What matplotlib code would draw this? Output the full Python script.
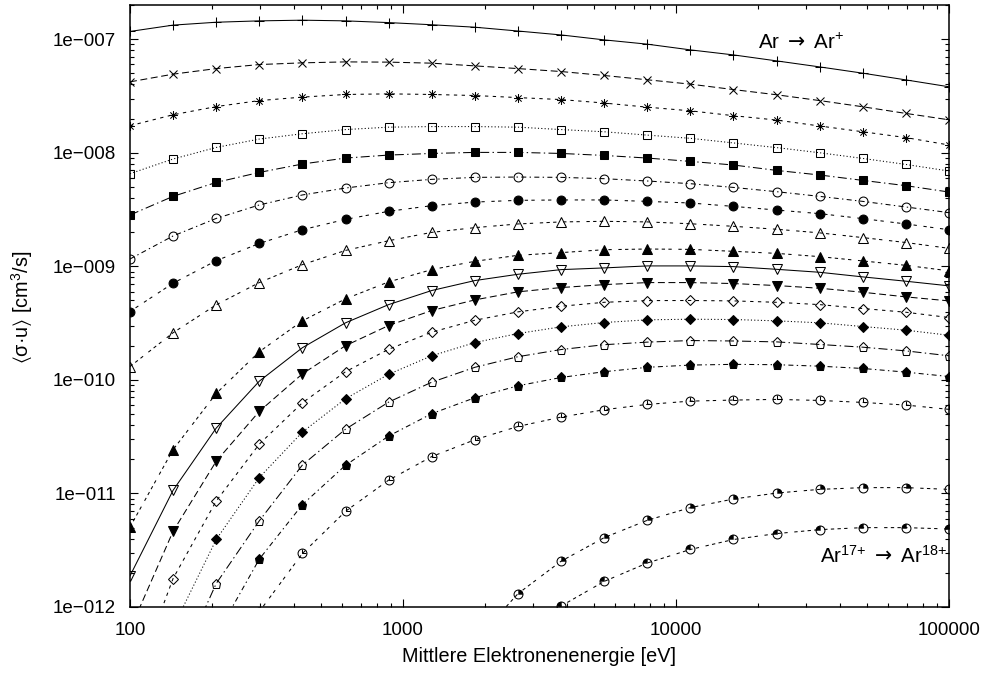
import numpy as np
import matplotlib
matplotlib.use("Agg")
import matplotlib.pyplot as plt
from matplotlib.path import Path
from matplotlib.ticker import LogLocator, FixedLocator, FixedFormatter, NullFormatter

plt.rcParams['font.family'] = ['Liberation Sans', 'DejaVu Sans']
plt.rcParams['mathtext.fontset'] = 'custom'
plt.rcParams['mathtext.rm'] = 'Liberation Sans'
plt.rcParams['mathtext.it'] = 'Liberation Sans'
plt.rcParams['mathtext.sf'] = 'DejaVu Sans'
plt.rcParams['mathtext.default'] = 'regular'
plt.rcParams['lines.scale_dashes'] = False

nan = float('nan')

# ---------------- data ----------------
energy_eV = [100, 143.8, 206.9, 297.6, 428.1, 615.8, 885.8, 1274, 1833, 2637,
             3793, 5456, 7848, 11288, 16238, 23357, 33598, 48329, 69519, 100000]

rate_01 = [1.17e-7, 1.33e-7, 1.41e-7, 1.45e-7, 1.47e-7, 1.45e-7, 1.40e-7, 1.34e-7, 1.275e-7, 1.18e-7,
           1.09e-7, 9.86e-8, 9.04e-8, 8.05e-8, 7.27e-8, 6.44e-8, 5.70e-8, 5.02e-8, 4.38e-8, 3.81e-8]
rate_02 = [4.21e-8, 4.92e-8, 5.51e-8, 5.98e-8, 6.19e-8, 6.31e-8, 6.28e-8, 6.15e-8, 5.82e-8, 5.51e-8,
           5.19e-8, 4.79e-8, 4.39e-8, 4.02e-8, 3.60e-8, 3.24e-8, 2.88e-8, 2.54e-8, 2.22e-8, 1.95e-8]
rate_03 = [1.73e-8, 2.16e-8, 2.55e-8, 2.88e-8, 3.09e-8, 3.26e-8, 3.30e-8, 3.26e-8, 3.19e-8, 3.06e-8,
           2.94e-8, 2.74e-8, 2.52e-8, 2.34e-8, 2.12e-8, 1.94e-8, 1.72e-8, 1.53e-8, 1.36e-8, 1.17e-8]
rate_04 = [6.54e-9, 8.81e-9, 1.113e-8, 1.32e-8, 1.47e-8, 1.60e-8, 1.68e-8, 1.70e-8, 1.70e-8, 1.68e-8,
           1.60e-8, 1.53e-8, 1.43e-8, 1.34e-8, 1.22e-8, 1.11e-8, 1.0e-8, 8.91e-9, 7.89e-9, 6.90e-9]
rate_05 = [2.83e-9, 4.13e-9, 5.48e-9, 6.71e-9, 7.96e-9, 8.98e-9, 9.54e-9, 9.86e-9, 1.007e-8, 1.007e-8,
           9.86e-9, 9.47e-9, 8.98e-9, 8.39e-9, 7.80e-9, 6.99e-9, 6.37e-9, 5.71e-9, 5.13e-9, 4.51e-9]
rate_06 = [1.16e-9, 1.85e-9, 2.64e-9, 3.47e-9, 4.25e-9, 4.89e-9, 5.45e-9, 5.83e-9, 6.07e-9, 6.11e-9,
           6.07e-9, 5.91e-9, 5.64e-9, 5.34e-9, 4.95e-9, 4.54e-9, 4.13e-9, 3.73e-9, 3.33e-9, 2.97e-9]
rate_07 = [4.0e-10, 7.10e-10, 1.12e-9, 1.59e-9, 2.10e-9, 2.59e-9, 3.05e-9, 3.42e-9, 3.68e-9, 3.81e-9,
           3.84e-9, 3.84e-9, 3.73e-9, 3.61e-9, 3.37e-9, 3.13e-9, 2.91e-9, 2.63e-9, 2.36e-9, 2.10e-9]
rate_08 = [1.31e-10, 2.60e-10, 4.58e-10, 7.19e-10, 1.035e-9, 1.38e-9, 1.68e-9, 1.99e-9, 2.19e-9, 2.36e-9,
           2.46e-9, 2.49e-9, 2.46e-9, 2.37e-9, 2.25e-9, 2.12e-9, 1.97e-9, 1.79e-9, 1.62e-9, 1.44e-9]
rate_09 = [5.06e-12, 2.43e-11, 7.59e-11, 1.77e-10, 3.31e-10, 5.17e-10, 7.29e-10, 9.35e-10, 1.107e-9, 1.25e-9,
           1.32e-9, 1.40e-9, 1.42e-9, 1.41e-9, 1.355e-9, 1.30e-9, 1.217e-9, 1.115e-9, 1.02e-9, 9.12e-10]
rate_10 = [1.88e-12, 1.065e-11, 3.76e-11, 9.74e-11, 1.92e-10, 3.18e-10, 4.60e-10, 6.12e-10, 7.49e-10, 8.51e-10,
           9.35e-10, 9.68e-10, 1.008e-9, 1.008e-9, 9.94e-10, 9.41e-10, 8.86e-10, 8.07e-10, 7.39e-10, 6.73e-10]
rate_11 = [6.3e-13, 4.64e-12, 1.92e-11, 5.28e-11, 1.13e-10, 2.0e-10, 3.01e-10, 4.08e-10, 5.06e-10, 5.96e-10,
           6.50e-10, 6.90e-10, 7.19e-10, 7.19e-10, 7.05e-10, 6.77e-10, 6.41e-10, 5.91e-10, 5.38e-10, 4.96e-10]
rate_12 = [1.7e-13, 1.78e-12, 8.57e-12, 2.72e-11, 6.29e-11, 1.18e-10, 1.86e-10, 2.63e-10, 3.35e-10, 3.97e-10,
           4.45e-10, 4.82e-10, 4.99e-10, 5.0e-10, 4.96e-10, 4.82e-10, 4.60e-10, 4.25e-10, 3.94e-10, 3.54e-10]
rate_13 = [nan, 6.6e-13, 3.93e-12, 1.38e-11, 3.47e-11, 6.82e-11, 1.12e-10, 1.63e-10, 2.13e-10, 2.56e-10,
           2.93e-10, 3.20e-10, 3.38e-10, 3.42e-10, 3.40e-10, 3.31e-10, 3.18e-10, 2.95e-10, 2.74e-10, 2.47e-10]
rate_14 = [nan, 2.3e-13, 1.61e-12, 5.74e-12, 1.78e-11, 3.68e-11, 6.37e-11, 9.54e-11, 1.29e-10, 1.60e-10,
           1.85e-10, 2.04e-10, 2.15e-10, 2.22e-10, 2.20e-10, 2.16e-10, 2.05e-10, 1.94e-10, 1.80e-10, 1.63e-10]
rate_15 = [nan, nan, 5.6e-13, 2.64e-12, 7.97e-12, 1.77e-11, 3.20e-11, 5.04e-11, 6.96e-11, 8.87e-11,
           1.05e-10, 1.18e-10, 1.29e-10, 1.35e-10, 1.37e-10, 1.36e-10, 1.32e-10, 1.26e-10, 1.17e-10, 1.07e-10]
rate_16 = [nan, nan, nan, 9.1e-13, 2.96e-12, 6.96e-12, 1.31e-11, 2.11e-11, 2.97e-11, 3.89e-11,
           4.70e-11, 5.46e-11, 6.08e-11, 6.50e-11, 6.64e-11, 6.73e-11, 6.59e-11, 6.33e-11, 6.0e-11, 5.50e-11]
rate_17 = [nan, nan, nan, nan, nan, nan, nan, nan, 5.0e-13, 1.31e-12,
           2.53e-12, 4.08e-12, 5.80e-12, 7.50e-12, 8.93e-12, 1.008e-11, 1.086e-11, 1.125e-11, 1.125e-11, 1.086e-11]
rate_18 = [nan, nan, nan, nan, nan, nan, nan, nan, nan, 5.5e-13,
           1.02e-12, 1.68e-12, 2.44e-12, 3.21e-12, 3.93e-12, 4.43e-12, 4.80e-12, 5.0e-12, 5.0e-12, 4.86e-12]

series = [rate_01, rate_02, rate_03, rate_04, rate_05, rate_06, rate_07, rate_08, rate_09,
          rate_10, rate_11, rate_12, rate_13, rate_14, rate_15, rate_16, rate_17, rate_18]

ytick_exponents = [-12, -11, -10, -9, -8, -7]
xtick_values = [100, 1000, 10000, 100000]
xtick_labels = ["100", "1000", "10000", "100000"]

# ---------------- styles ----------------
M, L = Path.MOVETO, Path.LINETO
s2 = 0.7071
asterisk = Path([(-1, 0), (1, 0), (0, -1), (0, 1), (-s2, -s2), (s2, s2), (-s2, s2), (s2, -s2)],
                [M, L, M, L, M, L, M, L])
clock = Path([(0, 1), (0, 0), (1, 0)], [M, L, L])
wedge_a = Path.wedge(0, 90)
wedge_b = Path.wedge(90, 180)

dash_patterns = [
    None,
    (0, (5.0, 2.6)),
    (0, (2.4, 3.2)),
    (0, (0.8, 1.6)),
    (0, (6.5, 2.4, 1.0, 2.4)),
    (0, (3.6, 2.4, 1.0, 2.4)),
    (0, (2.4, 2.4, 2.4, 4.8)),
    (0, (2.4, 2.4, 2.4, 2.4, 2.4, 4.8)),
    (0, (2.4, 2.4, 2.4, 2.4, 2.4, 2.4, 2.4, 4.8)),
]

# (marker, filled, size, overlay marker, overlay filled)
marker_styles = [
    ('+', False, 6.8, None, False),
    ('x', False, 5.8, None, False),
    (asterisk, False, 6.4, None, False),
    ('s', False, 6.0, None, False),
    ('s', True, 6.0, None, False),
    ('o', False, 6.4, None, False),
    ('o', True, 6.4, None, False),
    ('^', False, 7.0, None, False),
    ('^', True, 6.6, None, False),
    ('v', False, 7.0, None, False),
    ('v', True, 6.6, None, False),
    ('D', False, 5.2, None, False),
    ('D', True, 5.0, None, False),
    ('p', False, 6.8, None, False),
    ('p', True, 6.6, None, False),
    ('o', False, 6.4, clock, False),
    ('o', False, 6.4, wedge_a, True),
    ('o', False, 6.4, wedge_b, True),
]

# ---------------- figure ----------------
W, H = 986, 675
fig = plt.figure(figsize=(W / 100, H / 100), dpi=100)
ax_left, ax_right, ax_top, ax_bottom = 130, 949, 5, 607
ax = fig.add_axes([ax_left / W, 1 - ax_bottom / H, (ax_right - ax_left) / W, (ax_bottom - ax_top) / H])
ax.set_xscale('log')
ax.set_yscale('log')

for i, vals in enumerate(series):
    mk, filled, ms, ov, ovf = marker_styles[i]
    ls = dash_patterns[i % 9]
    line, = ax.plot(energy_eV, vals, color='black', lw=0.75,
                    marker=mk, markersize=ms, markeredgewidth=0.75,
                    markerfacecolor='black' if filled else 'none',
                    markeredgecolor='black')
    if ls is None:
        line.set_linestyle('-')
    else:
        line.set_linestyle(ls)
    if ov is not None:
        ax.plot(energy_eV, vals, linestyle='none', marker=ov, markersize=ms,
                markeredgewidth=0.75 if not ovf else 0.3,
                markerfacecolor='black' if ovf else 'none', markeredgecolor='black')

ax.set_xlim(100, 100000)
ax.set_ylim(1e-12, 2e-7)

ax.xaxis.set_major_locator(FixedLocator(xtick_values))
ax.xaxis.set_major_formatter(FixedFormatter(xtick_labels))
ax.xaxis.set_minor_locator(LogLocator(base=10, subs=np.arange(2, 10), numticks=20))
ax.xaxis.set_minor_formatter(NullFormatter())

yticks = [10.0 ** e for e in ytick_exponents]
ylabels = ["1e\u2212%03d" % abs(e) for e in ytick_exponents]
ax.yaxis.set_major_locator(FixedLocator(yticks))
ax.yaxis.set_major_formatter(FixedFormatter(ylabels))
ax.yaxis.set_minor_locator(LogLocator(base=10, subs=np.arange(2, 10), numticks=20))
ax.yaxis.set_minor_formatter(NullFormatter())

ax.tick_params(which='both', direction='in', top=True, right=True, width=0.8, colors='black')
ax.tick_params(which='major', length=5.5)
ax.tick_params(which='minor', length=3)
ax.tick_params(axis='y', which='major', pad=10, labelsize=13.5)
ax.tick_params(axis='x', which='major', pad=11, labelsize=13.5)
for sp in ax.spines.values():
    sp.set_linewidth(1.1)

fig.text(539.5 / W, 1 - 657 / H, "Mittlere Elektronenenergie [eV]", ha='center', va='center', fontsize=14.3)
ylabel_text = r"$\langle$" + "\u03c3\u00b7u" + r"$\rangle$ [cm$^3$/s]"
fig.text(22 / W, 1 - 307 / H, ylabel_text, ha='center', va='center', rotation=90, fontsize=14.3)

ax.text(2.0e4, 8.2e-8, r"Ar $\mathsf{\rightarrow}$ Ar$^{{+}}$", ha='left', va='baseline', fontsize=14.8)
ax.text(9.85e4, 2.43e-12, r"Ar$^{17{+}}$ $\mathsf{\rightarrow}$ Ar$^{18{+}}$", ha='right', va='baseline',
        fontsize=14.8)

fig.savefig("out.png", dpi=100)
